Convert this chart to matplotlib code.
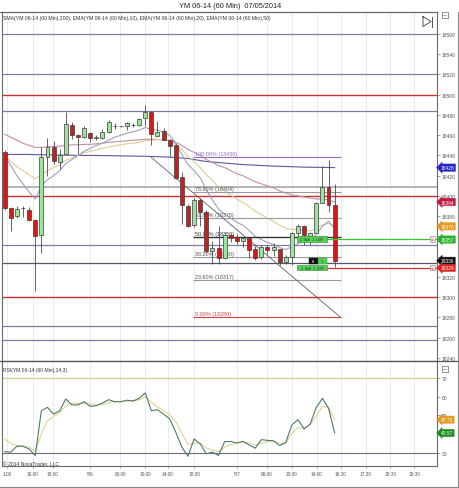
import matplotlib
matplotlib.use("Agg")
import numpy as np
import matplotlib.pyplot as plt
from matplotlib.patches import Rectangle
from matplotlib.lines import Line2D

plt.rcParams['font.family'] = ['Liberation Sans', 'DejaVu Sans']

# ---------------- data ----------------
opens = [18443, 18388, 18380, 18388, 18386, 18376, 18361, 18438, 18448, 18434,
         18441, 18470, 18460.5, 18458, 18462, 18457.5, 18457, 18463, 18469, 18469,
         18469, 18470, 18470, 18477, 18483, 18459.6, 18464, 18455, 18450.7, 18419,
         18390, 18371, 18396, 18384, 18346, 18349, 18339, 18361, 18359, 18355.5,
         18358, 18348, 18339.5, 18350, 18347, 18347.5, 18335, 18339.5, 18363.5, 18370,
         18357.5, 18363.5, 18393, 18408.6, 18391]
highs = [18445, 18389, 18390, 18390, 18389, 18377, 18448, 18457, 18454, 18446,
         18483, 18473, 18461, 18469, 18463, 18460, 18466, 18475, 18472, 18469.5,
         18473.5, 18472, 18477, 18490, 18484, 18474, 18467, 18456, 18451, 18424,
         18392, 18398, 18398, 18386, 18356, 18370, 18363, 18362, 18362, 18359,
         18359, 18351, 18352, 18352, 18354, 18348, 18342, 18364, 18372, 18371,
         18364, 18394, 18430, 18436, 18412]
lows = [18386, 18365, 18378, 18379, 18375, 18306, 18344, 18420, 18432, 18427,
        18441, 18456, 18441, 18457, 18453, 18455, 18456, 18462, 18466, 18468.5,
        18465.5, 18468, 18469, 18469, 18450.5, 18459, 18455, 18438, 18417, 18372,
        18369, 18369, 18370, 18344, 18333, 18333, 18338, 18355, 18353, 18350,
        18339, 18337, 18338, 18343, 18341, 18332, 18333, 18332, 18357, 18352,
        18352, 18363, 18393, 18384.5, 18330]
closes = [18388, 18378, 18387, 18388.5, 18376, 18360, 18438, 18448, 18435, 18440,
          18471, 18460, 18458, 18467, 18457, 18458, 18463, 18473, 18469.5, 18469,
          18472.5, 18470.5, 18476, 18483, 18461, 18463, 18455.6, 18449.7, 18418, 18391,
          18370, 18396, 18384, 18346, 18349, 18339, 18361, 18358, 18355.5, 18358,
          18347, 18338.5, 18350, 18347, 18350, 18335, 18339.5, 18363.5, 18370, 18361,
          18363, 18393, 18408.6, 18391.4, 18336]

sma200 = [18441, 18441, 18441, 18441, 18441, 18440.8, 18440.7, 18440.6, 18440.5, 18440.4,
          18440.3, 18440.2, 18440.1, 18440, 18440, 18440, 18439.9, 18439.8, 18439.7, 18439.6,
          18439.5, 18439.4, 18439.3, 18439.2, 18439, 18438.8, 18438.6, 18438.3, 18438, 18437.5,
          18437, 18436, 18435, 18434, 18433.5, 18433, 18432.5, 18432, 18431.5, 18431,
          18430.7, 18430.4, 18430.1, 18429.8, 18429.5, 18429.3, 18429.1, 18428.9, 18428.7, 18428.5,
          18428.4, 18428.3, 18428.2, 18428.1, 18428]
ema10 = [18440, 18430, 18420, 18412, 18404, 18397, 18410, 18416, 18420, 18425,
         18432, 18436, 18440, 18444, 18447, 18450, 18452, 18455, 18458, 18460,
         18462, 18463.5, 18465, 18467.5, 18466, 18465, 18463, 18460, 18452, 18441,
         18431, 18425, 18418, 18406, 18396, 18387, 18382, 18378, 18374, 18371,
         18366, 18360, 18357, 18354, 18352, 18349, 18347, 18350, 18353, 18355,
         18356, 18362, 18370, 18375, 18368]
ema20 = [18440, 18434, 18429, 18425, 18421, 18417, 18421, 18425, 18428, 18431,
         18435, 18437.5, 18440, 18442.5, 18444, 18445.5, 18447, 18448.5, 18449.5, 18450.5,
         18451.5, 18452, 18453, 18454.5, 18455, 18455.5, 18455.5, 18454.5, 18451, 18446,
         18439, 18434, 18428, 18421, 18415, 18409, 18405, 18401, 18397, 18393.5,
         18389.5, 18385, 18381.5, 18378, 18375, 18371, 18368, 18367, 18366.5, 18366,
         18365.5, 18368, 18371.5, 18373, 18370]
ema50 = [18461, 18458, 18455, 18452, 18450, 18448, 18448, 18448.5, 18449, 18449,
         18450, 18450.5, 18450.5, 18451, 18451, 18451.5, 18452, 18453, 18453.5, 18454,
         18454.5, 18455, 18455.5, 18456, 18456, 18456, 18455.5, 18455, 18453, 18450,
         18446, 18443, 18440, 18436, 18433, 18430, 18428, 18425, 18422, 18420,
         18417, 18414, 18412, 18410, 18408, 18405, 18403, 18401, 18400, 18399,
         18398, 18397, 18397, 18396, 18394]

rsi = [30.6, 30.3, 33.5, 33.5, 32, 28.5, 52.5, 54.3, 50.7, 52.5,
       58.8, 55.6, 55.6, 57.3, 54.8, 55.2, 56.6, 58.4, 57.3, 57.3,
       58.1, 57.7, 59.1, 62, 52.5, 53, 50.7, 48.1, 41, 33,
       28.1, 37.4, 34.7, 29.4, 30.3, 28.5, 36, 36, 35.2, 36.1,
       34.2, 32.4, 37, 36.6, 36.4, 33.8, 35.5, 44.9, 47.7, 42.7,
       45.4, 54.3, 59.1, 53.8, 40.6]
rsi_avg = [37.4, 35, 33.8, 33.5, 33, 31, 40, 47, 49.5, 51.5,
           55, 56.5, 56.5, 56.5, 56, 55.5, 55.8, 56.8, 57.3, 57.5,
           57.7, 57.8, 58.3, 60, 57, 54.5, 52.5, 50.5, 46.5, 40.5,
           34.5, 35, 35.2, 32.5, 31.5, 30.5, 33, 34.5, 35.2, 35.8,
           35.2, 34, 35.2, 35.8, 36.2, 35, 35.2, 40.5, 43.5, 43.2,
           45, 49.5, 54.8, 54.5, 47.7]

# horizontal drawn lines (price, colour kind)
hlines_price = [18560, 18520, 18500, 18483.5, 18409, 18400, 18351.6, 18333.5, 18300, 18272, 18257.5]
hlines_kind = ['b', 'b', 'r', 'b', 'g', 'r', 'b', 'd', 'r', 'b', 'b']

fib_pct = ['100.00%', '78.60%', '61.80%', '50.00%', '38.20%', '23.60%', '0.00%']
fib_price = [18438, 18404, 18378, 18359, 18340, 18317, 18280]
fib_anchor_bar = [24, 55]
fib_anchor_price = [18438, 18280]

order_prices = [18357.5, 18329]
order_texts = ['1  Sell  1  LMT', '1  Sell  1  STP']

tick_pos = [0.4, 4.6, 7.9, 14.0, 18.9, 23.0, 26.7, 31.0, 38.0, 42.9, 47.0, 51.1, 55.0, 59.1, 63.1, 67.0]
tick_lbl = ["1:00", "16:00", "18:00", "5/6", "06:00", "10:00", "14:00", "18:00",
            "5/7", "08:00", "10:00", "14:00", "16:30", "17:30", "18:30", "19:30"]

price_ticks = list(range(18240, 18561, 20))
price_hidden = [18360, 18340]          # labels covered by tags in the reference
rsi_ticks = [30, 40, 50, 60, 70]
rsi_hidden = [40]

price_tags = [(18428, '18428', '#2323c8', 'white'),
              (18394, '18394', '#c8143c', 'white'),
              (18370, '18370', '#e39a1e', 'white'),
              (18357, '18357', '#28b428', 'white'),
              (18336, '18336', '#111111', 'white'),
              (18329, '18329', '#dc2020', 'white')]
rsi_tags = [(47.7, '47.72', '#e39a1e', 'white'),
            (40.57, '40.57', '#1e8c1e', 'white')]

# ---------------- figure ----------------
W, H = 460, 489
fig = plt.figure(figsize=(W / 100, H / 100), dpi=100)
fig.patch.set_facecolor('white')

def fx(px):
    return px / W

def fy(py):
    return 1 - py / H

ax = fig.add_axes([fx(2), fy(362), fx(437) - fx(2), fy(13) - fy(362)])
ax2 = fig.add_axes([fx(2), fy(467), fx(437) - fx(2), fy(362) - fy(467)], sharex=ax)

x = np.arange(len(closes))
o = np.array(opens); c = np.array(closes)
hi = np.array(highs); lo = np.array(lows)

XMIN, XMAX = -0.44, 70.75
ax.set_xlim(XMIN, XMAX)
ax.set_ylim(18237, 18581.7)
ax2.set_ylim(22.9, 79.1)

for a in (ax, ax2):
    for sp in a.spines.values():
        sp.set_color('#6a6a6a')
        sp.set_linewidth(0.8)
    for t in tick_pos:
        a.axvline(t, color='#e8e8e8', lw=0.6, zorder=0)

# full width drawn lines
kind_col = {'b': '#7c7ca4', 'r': '#c83232', 'g': '#b4b4b4', 'd': '#55556a'}
kind_lw = {'b': 0.9, 'r': 1.0, 'g': 1.4, 'd': 0.9}
for p, k in zip(hlines_price, hlines_kind):
    ax.axhline(p, color=kind_col[k], lw=kind_lw[k], zorder=1)

# moving averages
ax.plot(x, sma200, color='#5a5a9a', lw=0.8, zorder=2)
ax.plot(x, ema50, color='#c48ca8', lw=0.8, zorder=2)
ax.plot(x, ema20, color='#e2cb98', lw=0.8, zorder=2)
ax.plot(x, ema10, color='#9aa2c2', lw=0.8, zorder=2)

# fibonacci
fib_cols = ['#9a6cc4', '#9a9a9a', '#9a9a9a', '#333333', '#9a9a9a', '#9a9a9a', '#d04040']
fib_tcols = ['#9a6cc4', '#555555', '#555555', '#333333', '#555555', '#555555', '#d04040']
for pct, p, col, tcol in zip(fib_pct, fib_price, fib_cols, fib_tcols):
    ax.hlines(p, 30.8, 55.0, colors=col, lw=1.0 if col == '#333333' else 0.8, zorder=2)
    ax.text(31.1, p + 1.2, f'{pct} ({p})', fontsize=3.9, color=tcol, ha='left', va='bottom', zorder=3)
ax.plot(fib_anchor_bar, fib_anchor_price, color='#606060', lw=0.6, zorder=2)

# candles
up = c >= o
ax.vlines(x, lo, hi, color='#4a4a4a', lw=0.6, zorder=4)
body_h = np.where(np.abs(c - o) < 0.3, 0.0, np.abs(c - o))
ax.bar(x, body_h, bottom=np.minimum(o, c), width=0.64,
       color=np.where(up, '#9ce49c', '#cf1b1b'), edgecolor='#3c3c3c', linewidth=0.5, zorder=5)

# order lines
ax.hlines(order_prices[0], 47.9, XMAX, colors='#32c832', lw=0.9, zorder=6)
ax.hlines(order_prices[1], 47.9, XMAX, colors='#d23030', lw=0.9, zorder=6)
for p, t in zip(order_prices, order_texts):
    ax.add_patch(Rectangle((47.9, p - 2.6), 4.85, 5.2, fc='#55d055', ec='#2a8a2a', lw=0.4, zorder=7))
    ax.text(50.3, p, t, fontsize=2.6, color='#0a300a', ha='center', va='center', zorder=8)
    ax.add_patch(Rectangle((69.6, p - 2.5), 0.85, 5.0, fc='#f4e4e4', ec='#888888', lw=0.4, zorder=7))
    ax.text(70.02, p, '×', fontsize=3.8, color='#d02020', ha='center', va='center', zorder=8)
# position marker
ax.add_patch(Rectangle((49.8, 18333), 1.4, 5.4, fc='#111111', ec='#111111', lw=0.3, zorder=7))
ax.text(50.5, 18335.7, '8', fontsize=3, color='white', ha='center', va='center', zorder=8)
ax.add_patch(Rectangle((51.2, 18333), 1.5, 5.4, fc='#55d055', ec='#2a8a2a', lw=0.3, zorder=7))
ax.text(51.95, 18335.7, '1', fontsize=2.8, color='#0a300a', ha='center', va='center', zorder=8)

# axes ticks
ax.yaxis.tick_right()
ax.set_yticks(price_ticks)
ax.set_yticklabels(['' if v in price_hidden else str(v) for v in price_ticks])
ax.tick_params(axis='y', labelsize=3.6, labelcolor='#555555', color='#777777', length=2, width=0.5, pad=1.5)
ax.tick_params(axis='x', bottom=False, labelbottom=False)
ax2.yaxis.tick_right()
ax2.set_yticks(rsi_ticks)
ax2.set_yticklabels(['' if v in rsi_hidden else str(v) for v in rsi_ticks])
ax2.tick_params(axis='y', labelsize=3.6, labelcolor='#555555', color='#777777', length=2, width=0.5, pad=1.5)
ax2.set_xticks(tick_pos)
ax2.set_xticklabels(tick_lbl)
ax2.tick_params(axis='x', labelsize=3.4, labelcolor='#555555', color='#888888', length=1.5, width=0.5, pad=2)

# RSI
ax2.axhline(70, color='#d8d08c', lw=0.9, zorder=1)
ax2.axhline(30, color='#6c6c7c', lw=0.8, zorder=1)
ax2.plot(x, rsi_avg, color='#dfd58e', lw=0.8, zorder=3)
ax2.plot(x, rsi, color='#4c7a72', lw=0.8, zorder=4)

# tags
def tag(a, v, t, fc, tc):
    a.annotate(t, xy=(1.0, v), xycoords=('axes fraction', 'data'), xytext=(2.6, 0),
               textcoords='offset points', ha='left', va='center', fontsize=3.5, color=tc,
               bbox=dict(boxstyle='larrow,pad=0.24', fc=fc, ec=fc, lw=0.3),
               annotation_clip=False, zorder=20)

for v, t, fc, tc in price_tags:
    tag(ax, v, t, fc, tc)
for v, t, fc, tc in rsi_tags:
    tag(ax2, v, t, fc, tc)

# texts
fig.text(fx(230), fy(6.5), 'YM 06-14 (60 Min)  07/05/2014', ha='center', va='center', fontsize=5.3, color='#222222')
fig.text(fx(3), fy(18.5), 'SMA(YM 06-14 (60 Min),200), EMA(YM 06-14 (60 Min),10), EMA(YM 06-14 (60 Min),20), EMA(YM 06-14 (60 Min),50)',
         ha='left', va='center', fontsize=3.7, color='#333333')
fig.text(fx(3), fy(371), 'RSI(YM 06-14 (60 Min),14,3)', ha='left', va='center', fontsize=3.6, color='#333333')
fig.text(fx(3), fy(464), '© 2014 NinjaTrader, LLC', ha='left', va='center', fontsize=3.6, color='#333333')

# icons and frame
def fline(xs, ys, col='#555555', lw=0.7):
    fig.add_artist(Line2D([fx(v) for v in xs], [fy(v) for v in ys], transform=fig.transFigure, color=col, lw=lw))

fline([423, 431, 423, 423], [17.5, 22.5, 27.5, 17.5])
fline([432, 432], [17.5, 27.5])
for yy in (13, 367):
    fig.add_artist(Rectangle((fx(442), fy(yy + 6)), fx(6), 6 / H, transform=fig.transFigure,
                             fc='white', ec='#666666', lw=0.5))
    fline([443.5, 446.5], [yy + 2.5, yy + 2.5], '#666666', 0.4)
fline([0, 460], [362, 362], '#555555', 0.9)
fline([0, 460], [487.5, 487.5], '#8a8a8a', 0.8)
fline([458.5, 458.5], [13, 488], '#8a8a8a', 0.8)
fline([0, 437], [13, 13], '#666666', 0.8)

fig.savefig('out.png', dpi=100)
